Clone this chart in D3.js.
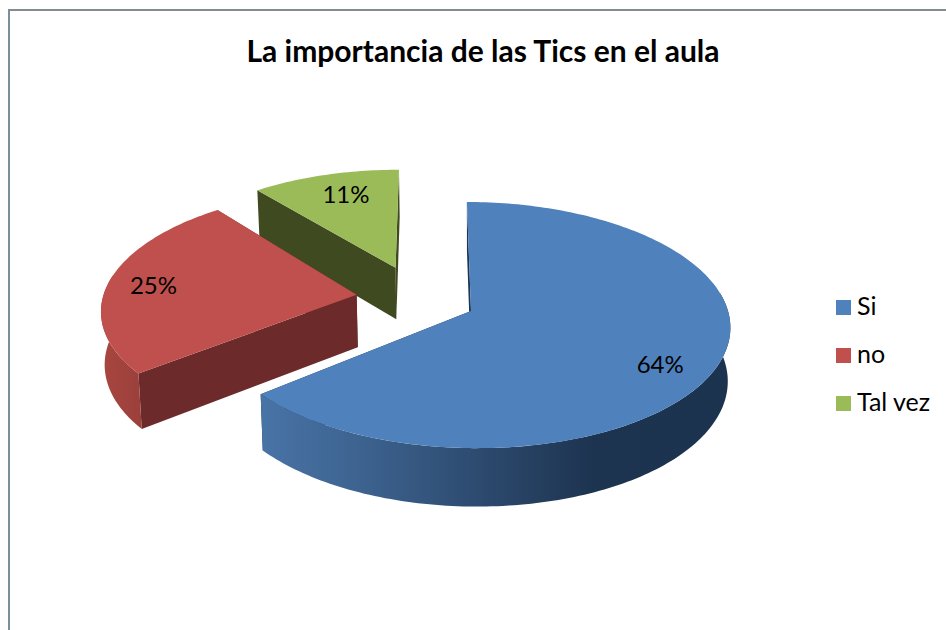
<!DOCTYPE html>
<html><head><meta charset="utf-8">
<script src="https://cdn.jsdelivr.net/npm/d3@7"></script>
<style>html,body{margin:0;padding:0;background:#fff}svg{display:block}text{font-family:Lato,"Open Sans",sans-serif;fill:#000}</style>
</head><body><div id="c"></div>
<script>
const categories = ["Si","no","Tal vez"];
const values = [64,25,11];
const labels = ["64%","25%","11%"];
const titleText = "La importancia de las Tics en el aula";
const topColors = ["#4f81bd","#c0504d","#9bbb59"];
const cutColors = ["#1c3553","#6c2b2a","#404a20"];

const W=946,H=630;
const svg=d3.select("#c").append("svg").attr("width",W).attr("height",H);
const defs=svg.append("defs");

// ground plane → screen, with perspective and a slight shear
const P=0.114, DEPTH=53, SHRINK=0.99, SHEAR=0.045;
const sx=d3.scaleLinear().domain([0,1]).range([471,728]);
const sy=d3.scaleLinear().domain([0,1]).range([311,432.5]);
const persp=Y=>1/(1-P*Y);
const project=(X,Y,low)=>{
  const s=persp(Y),k=low?SHRINK:1;
  const yy=sy(Y*s*k);
  return [sx(X*s*k)+SHEAR*(yy-311), yy+(low?DEPTH*s:0)];
};
// displacement, turn and radius of each exploded slice on the ground plane
const explode=[[0,0],[-0.449,-0.135],[-0.298,-0.37]];
const turn=[0,1,0].map(d=>d*Math.PI/180);
const radius=[1,1,0.97];
const labelR=[0.78,0.8,0.75], labelNudge=[[-1,11],[-4,0],[6,0]];

const rot=0.2*Math.PI/180;
const arcs=d3.pie().sort(null).startAngle(rot).endAngle(2*Math.PI+rot)(values);
const line=d3.line();

function rimPts(i,a0,a1,low){
  const n=Math.max(2,Math.ceil((a1-a0)/0.02));
  return d3.range(n+1).map(j=>{
    const a=a0+(a1-a0)*j/n+turn[i];
    return project(explode[i][0]+radius[i]*Math.sin(a),explode[i][1]-radius[i]*Math.cos(a),low);
  });
}
const apex=(i,low)=>project(explode[i][0],explode[i][1],low);

// wall shading
const gB=defs.append("linearGradient").attr("id","wall0").attr("gradientUnits","userSpaceOnUse")
  .attr("x1",265).attr("x2",735).attr("y1",0).attr("y2",0);
[[0,"#4873a5"],[0.2,"#3d6390"],[0.5,"#2a4669"],[0.7,"#1d3450"],[1,"#1c3350"]].forEach(d=>gB.append("stop").attr("offset",d[0]).attr("stop-color",d[1]));
const gR=defs.append("linearGradient").attr("id","wall1").attr("gradientUnits","userSpaceOnUse")
  .attr("x1",100).attr("x2",146).attr("y1",0).attr("y2",0);
[[0,"#a9463f"],[1,"#9a3f3b"]].forEach(d=>gR.append("stop").attr("offset",d[0]).attr("stop-color",d[1]));
const rimFill=["url(#wall0)","url(#wall1)","#7f9a48"];

// back to front
[2,1,0].forEach(i=>{
  const a=arcs[i],g=svg.append("g").attr("class","slice");
  const top0=rimPts(i,a.startAngle,a.endAngle,false);
  const low0=rimPts(i,a.startAngle,a.endAngle,true);
  const cut=(pt,ptLow)=>line([pt,apex(i,false),apex(i,true),ptLow])+"Z";
  g.append("path").attr("d",cut(top0[top0.length-1],low0[low0.length-1])).attr("fill",cutColors[i]);
  g.append("path").attr("d",cut(top0[0],low0[0])).attr("fill",cutColors[i]);
  // only the part of the rim that faces the viewer
  const r0=Math.max(a.startAngle,Math.PI/2-0.15), r1=Math.min(a.endAngle,1.5*Math.PI+0.15);
  if(r0<r1){
    g.append("path").attr("d",line(rimPts(i,r0,r1,false).concat(rimPts(i,r0,r1,true).reverse()))+"Z").attr("fill",rimFill[i]);
  }
  g.append("path").attr("d",line([apex(i,false)].concat(top0))+"Z").attr("fill",topColors[i]);
});

// labels
arcs.forEach((a,i)=>{
  const m=(a.startAngle+a.endAngle)/2,r=labelR[i];
  const p=project(explode[i][0]+r*Math.sin(m),explode[i][1]-r*Math.cos(m),false);
  svg.append("text").attr("x",p[0]+labelNudge[i][0]).attr("y",p[1]+labelNudge[i][1]).attr("dy","0.35em")
    .attr("text-anchor","middle").style("font-size","24px").text(labels[i]);
});

// frame
svg.append("rect").attr("x",8).attr("y",9).attr("width",W).attr("height",2).attr("fill","#858c90");
svg.append("rect").attr("x",8).attr("y",9).attr("width",2).attr("height",H).attr("fill","#7a8e9b");

// title
svg.append("text").attr("x",483).attr("y",62).attr("text-anchor","middle")
  .style("font-size","30px").style("font-weight","700").text(titleText);

// legend
const ly=d3.scalePoint().domain(categories).range([300,396]);
categories.forEach((c,i)=>{
  svg.append("rect").attr("x",836).attr("y",ly(c)).attr("width",15).attr("height",15).attr("fill",topColors[i]);
  svg.append("text").attr("x",857).attr("y",ly(c)+15).style("font-size","25px").text(c);
});
</script></body></html>
